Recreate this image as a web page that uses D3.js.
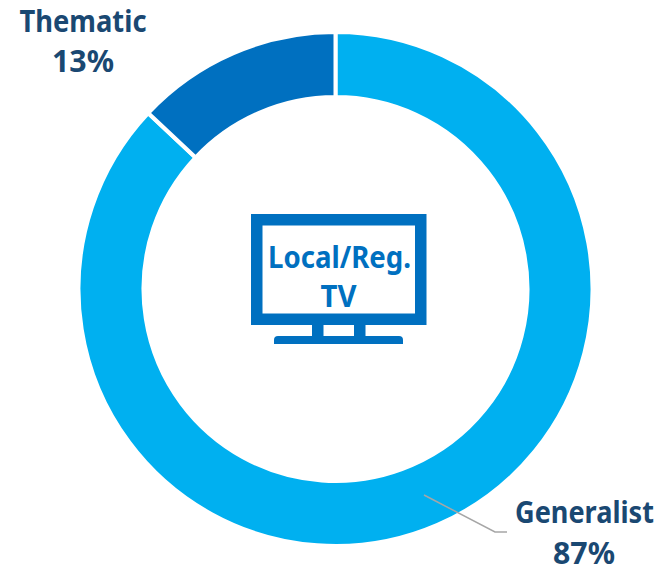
<!DOCTYPE html>
<html>
<head>
<meta charset="utf-8">
<script src="https://cdn.jsdelivr.net/npm/d3@7"></script>
<style>
  html, body { margin: 0; padding: 0; background: #fff; }
  svg { display: block; }
  text { font-family: "Noto Sans", "Open Sans", sans-serif; font-weight: 700; text-anchor: middle; }
</style>
</head>
<body>
<svg width="658" height="566"></svg>
<script>
const categories = ["Generalist", "Thematic"];
const shares = [87, 13];
const sliceColors = ["#00b0f0", "#0070c0"];
const labelColor = "#1a4872";
const tvColor = "#0070c0";
const tvLines = ["Local/Reg.", "TV"];

const svg = d3.select("svg");
const cx = 335.5, cy = 289;

const pie = d3.pie().sort(null);
// white stroke eats 2px each side, so the ring is drawn 2px fatter
const arc = d3.arc().innerRadius(192).outerRadius(257);

const donut = svg.append("g").attr("transform", "translate(" + cx + "," + cy + ")");
donut.selectAll("path")
  .data(pie(shares))
  .enter().append("path")
  .attr("d", arc)
  .attr("fill", (d, i) => sliceColors[i])
  .attr("stroke", "#fff")
  .attr("stroke-width", 4);

// leader line for the Generalist label
svg.append("polyline")
  .attr("points", "424,495 495,532 507,532")
  .attr("fill", "none")
  .attr("stroke", "#a6a6a6")
  .attr("stroke-width", 1.5);

// squeeze a text sideways to the wanted width (the font is wider than the original one)
function fitText(sel) {
  sel.attr("transform", function (d) {
    const sx = d.len / this.getComputedTextLength();
    return "translate(" + d.x + "," + d.y + ") scale(" + sx + ",1)";
  });
}

// labels
const labels = [
  { x: 83, y: 32, len: 127, text: categories[1] },
  { x: 83, y: 72, len: 62, text: shares[1] + "%" },
  { x: 584.5, y: 523, len: 139, text: categories[0] },
  { x: 584, y: 564, len: 62, text: shares[0] + "%" }
];
svg.selectAll("text.label")
  .data(labels)
  .enter().append("text")
  .attr("class", "label")
  .attr("font-size", 30)
  .attr("fill", labelColor)
  .text(d => d.text)
  .call(fitText);

// tv icon
const tv = svg.append("g");
tv.append("rect").attr("x", 256.75).attr("y", 219.75).attr("width", 164).attr("height", 99.5)
  .attr("fill", "#fff").attr("stroke", tvColor).attr("stroke-width", 11.5);
tv.append("rect").attr("x", 312).attr("y", 325).attr("width", 11.5).attr("height", 12).attr("fill", tvColor);
tv.append("rect").attr("x", 354).attr("y", 325).attr("width", 11.5).attr("height", 12).attr("fill", tvColor);
tv.append("path").attr("d", "M274,344V340Q274,336 278,336H399Q403,336 403,340V344Z").attr("fill", tvColor);

const tvLabels = [
  { x: 339.5, y: 268, len: 143, text: tvLines[0] },
  { x: 338.5, y: 307, len: 36, text: tvLines[1] }
];
tv.selectAll("text")
  .data(tvLabels)
  .enter().append("text")
  .attr("font-size", 30)
  .attr("fill", tvColor)
  .text(d => d.text)
  .call(fitText);
</script>
</body>
</html>
